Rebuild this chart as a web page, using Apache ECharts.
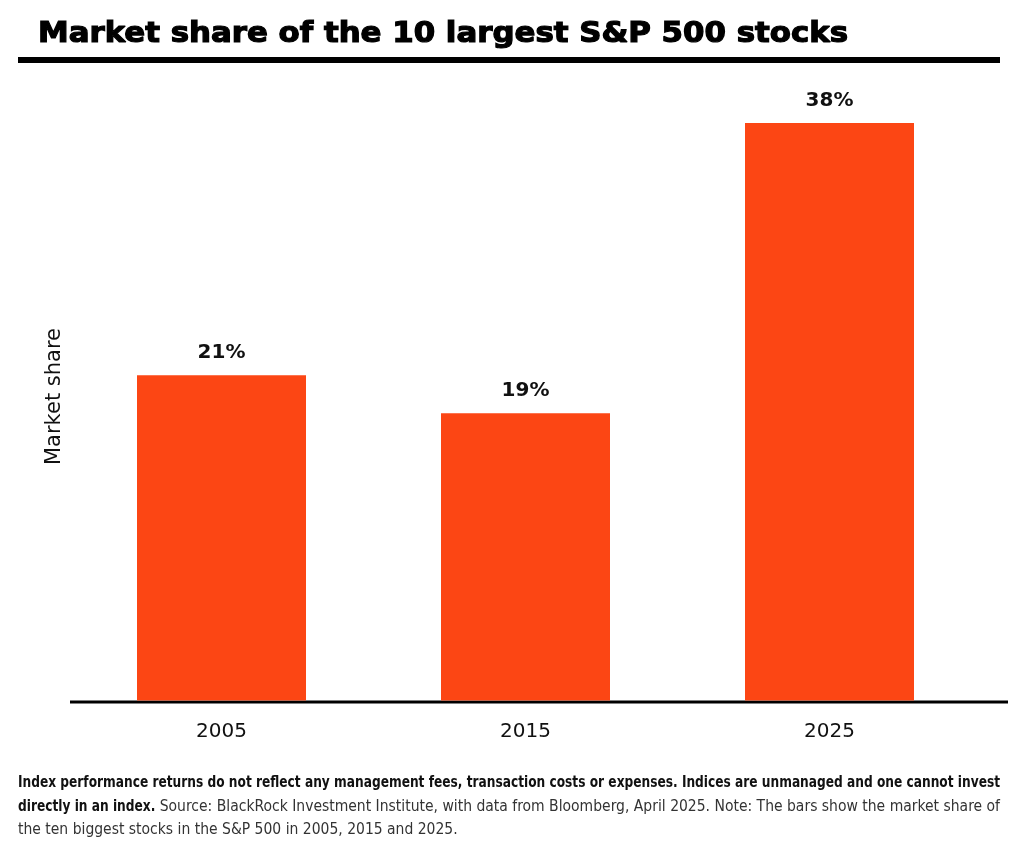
<!DOCTYPE html>
<html>
<head>
<meta charset="utf-8">
<title>Market share of the 10 largest S&P 500 stocks</title>
<script src="https://cdn.jsdelivr.net/npm/echarts@6/dist/echarts.min.js"></script>
<style>
  html, body { margin: 0; padding: 0; background: #fff; }
  #chart { width: 1011px; height: 854px; }
</style>
</head>
<body>
<div id="chart"></div>
<script>
// values (labels are shown rounded)
const years = ['2005', '2015', '2025']
const shares = [21.4, 18.9, 38.0]

const title = 'Market share of the 10 largest S&P 500 stocks'
const noteBold1 = 'Index performance returns do not reflect any management fees, transaction costs or expenses. Indices are unmanaged and one cannot invest'
const noteBold2 = 'directly in an index.'
const noteText2 = ' Source: BlackRock Investment Institute, with data from Bloomberg, April 2025. Note: The bars show the market share of'
const noteText3 = 'the ten biggest stocks in the S&P 500 in 2005, 2015 and 2025.'

const BAR = '#fc4614'
const SANS = "'DejaVu Sans', sans-serif"
const COND = "'DejaVu Sans Condensed', sans-serif"

// squeeze text horizontally so it spans a given width
const ctx = document.createElement('canvas').getContext('2d')
function textWidth(text, font) {
  ctx.font = font
  return ctx.measureText(text).width
}
const titleFont = 'bold 28px ' + SANS
const boldFont = 'bold 16px ' + COND
const regFont = '16px ' + COND
const titleScale = 810 / textWidth(title, titleFont)
const boldScale = 982 / textWidth(noteBold1, boldFont)
const bold2W = textWidth(noteBold2, boldFont) * boldScale
const regScale = (982 - bold2W) / textWidth(noteText2, regFont)

function note(text, x, y, font, scale, color) {
  return {
    type: 'text', x: x, y: y, scaleX: scale,
    style: { text: text, font: font, fill: color, verticalAlign: 'middle' }
  }
}

const chart = echarts.init(document.getElementById('chart'))

chart.setOption({
  animation: false,
  grid: { left: 69.5, right: 29.5, top: 92.5, bottom: 153.5 },
  xAxis: {
    type: 'category',
    data: years,
    axisLine: { show: false },
    axisTick: { show: false },
    axisLabel: {
      color: '#111',
      fontFamily: SANS,
      fontSize: 20,
      margin: 21
    }
  },
  yAxis: {
    type: 'value',
    min: 0,
    max: 40,
    axisLine: { show: false },
    axisTick: { show: false },
    axisLabel: { show: false },
    splitLine: { show: false },
    name: 'Market share',
    nameLocation: 'middle',
    nameRotate: 90,
    nameGap: 4,
    nameTextStyle: { color: '#111', fontFamily: SANS, fontSize: 21 }
  },
  series: [{
    type: 'bar',
    data: shares,
    barWidth: 169,
    itemStyle: { color: BAR },
    label: {
      show: true,
      position: 'top',
      distance: 12,
      color: '#111',
      fontFamily: SANS,
      fontWeight: 'bold',
      fontSize: 20,
      formatter: p => Math.round(p.value) + '%'
    }
  }],
  graphic: [
    {
      type: 'text',
      x: 38,
      y: 35,
      scaleX: titleScale,
      style: {
        text: title,
        fill: '#000',
        stroke: '#000',
        lineWidth: 1.2,
        font: titleFont,
        verticalAlign: 'middle'
      }
    },
    {
      type: 'rect',
      shape: { x: 18, y: 57, width: 982, height: 6 },
      style: { fill: '#000' }
    },
    {
      type: 'line',
      shape: { x1: 70, y1: 702, x2: 1008, y2: 702 },
      style: { stroke: '#000', lineWidth: 3 }
    },
    note(noteBold1, 18, 783, boldFont, boldScale, '#111'),
    note(noteBold2, 18, 806.5, boldFont, boldScale, '#111'),
    note(noteText2, 18 + bold2W, 806.5, regFont, regScale, '#333'),
    note(noteText3, 18, 830, regFont, regScale, '#333')
  ]
})
</script>
</body>
</html>
